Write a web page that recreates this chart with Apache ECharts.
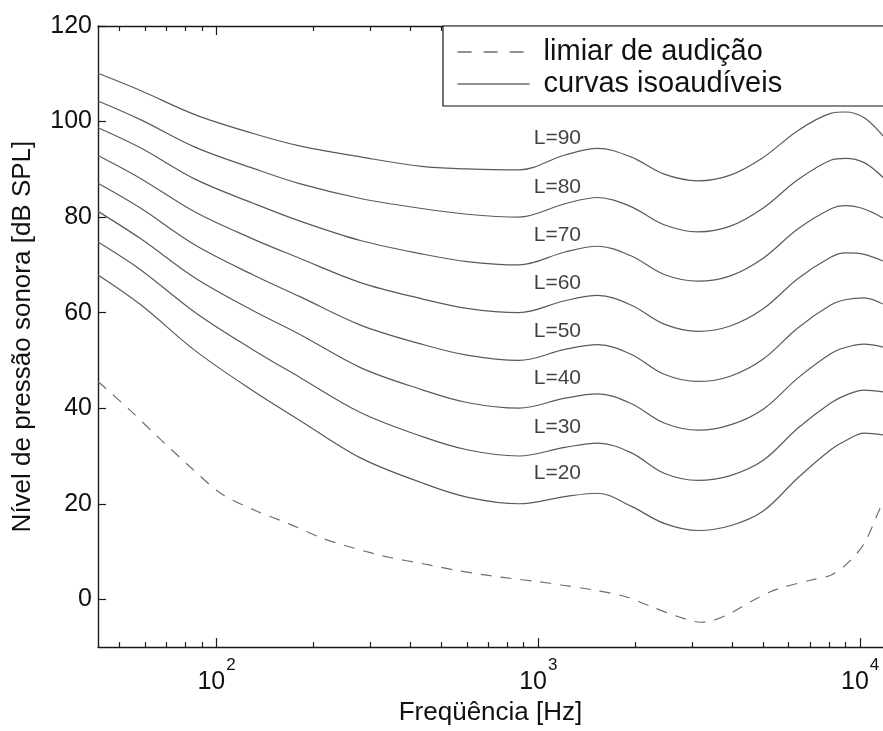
<!DOCTYPE html>
<html>
<head>
<meta charset="utf-8">
<script src="https://cdn.jsdelivr.net/npm/echarts@6/dist/echarts.min.js"></script>
<style>html,body{margin:0;padding:0;background:#fff}#c{width:883px;height:731px}</style>
</head>
<body>
<div id="c"></div>
<script>
// ---- data ----
const freqs = [42.8, 58, 86, 130, 181, 280, 434, 600, 870, 1210, 1530, 1940, 2460, 3140, 3950, 5000, 6400, 8100, 9000, 10300, 11780];
const L90 = [110.1, 106.5, 101.4, 97.5, 94.9, 92.6, 90.6, 90.1, 89.9, 93.0, 94.4, 92.6, 89.0, 87.6, 88.8, 92.5, 98.1, 101.7, 102.0, 100.8, 97.0];
const L80 = [104.3, 100.4, 94.6, 90.2, 87.0, 83.9, 81.8, 80.6, 80.0, 82.8, 84.1, 82.2, 78.4, 76.9, 78.1, 81.9, 87.8, 91.9, 92.3, 91.4, 88.3];
const L70 = [98.7, 94.5, 87.9, 82.9, 79.2, 75.1, 72.3, 70.7, 70.0, 72.7, 73.9, 71.9, 68.0, 66.6, 67.7, 71.4, 77.5, 81.7, 82.4, 81.7, 79.8];
const L60 = [92.9, 88.1, 81.0, 75.4, 71.4, 66.3, 62.9, 60.9, 60.0, 62.5, 63.6, 61.6, 57.6, 56.1, 57.2, 60.8, 67.1, 71.6, 72.5, 72.2, 70.8];
const L50 = [87.1, 81.9, 74.1, 67.9, 63.4, 57.4, 53.4, 51.1, 50.0, 52.3, 53.3, 51.3, 47.1, 45.6, 46.7, 50.3, 56.8, 61.6, 62.7, 63.1, 61.8];
const L40 = [81.2, 75.5, 67.2, 60.4, 55.5, 48.5, 43.9, 41.2, 40.0, 42.1, 43.0, 41.0, 36.9, 35.4, 36.5, 39.8, 46.3, 51.4, 52.7, 53.4, 52.8];
const L30 = [74.8, 69.0, 60.0, 52.2, 46.5, 39.1, 34.1, 31.3, 30.0, 31.8, 32.7, 30.7, 26.4, 24.9, 25.9, 29.1, 35.8, 41.1, 42.7, 43.8, 43.4];
const L20 = [67.9, 61.7, 52.0, 43.6, 37.5, 29.6, 24.4, 21.4, 20.0, 21.5, 22.2, 19.5, 15.9, 14.4, 15.4, 18.5, 25.4, 31.3, 33.2, 34.8, 34.4];
const curves = [L90, L80, L70, L60, L50, L40, L30, L20];

const thrFreqs = [42.8, 53.8, 65.2, 82.5, 104, 133, 168, 213, 271, 343, 434, 553, 700, 886, 1000, 1178, 1500, 1858, 2239, 2712, 3198, 3533, 3963, 4565, 5263, 5819, 7000, 8076, 8989, 10280, 11530, 11780];
const thrValues = [45.6, 39.6, 34.2, 27.8, 22.0, 18.5, 15.8, 12.8, 10.6, 8.8, 7.5, 6.1, 5.0, 4.1, 3.7, 3.0, 1.9, 0.6, -1.5, -3.6, -4.8, -4.3, -2.9, -0.5, 1.6, 2.6, 4.0, 5.0, 7.1, 11.6, 19.0, 20.0];

const curveLabels = ['L=90', 'L=80', 'L=70', 'L=60', 'L=50', 'L=40', 'L=30', 'L=20'];
const labelLevels = [96.5, 86.2, 76.2, 66.2, 56.2, 46.2, 36.1, 26.3];
const labelFreq = 1146;

const majorTicks = [100, 1000, 10000];
const minorTicks = [50, 60, 70, 80, 90, 200, 300, 400, 500, 600, 700, 800, 900, 2000, 3000, 4000, 5000, 6000, 7000, 8000, 9000];
const yTicks = [0, 20, 40, 60, 80, 100, 120];

const NAME_THR = 'limiar de audição';
const NAME_CURVES = 'curvas isoaudíveis';

// ---- chart ----
const FONT = '"Liberation Sans", Arial, Helvetica, sans-serif';
const AXC = '#1a1a1a';
const chart = echarts.init(document.getElementById('c'), null, {renderer: 'canvas'});

function xAxisDef(pos, ticks, len, showLine, showLabel) {
  return {
    type: 'log', logBase: 10, min: 42.8, max: 11780, position: pos,
    axisLine: {show: showLine, onZero: false, lineStyle: {color: AXC, width: 1.4}},
    axisTick: {show: true, inside: true, length: len, customValues: ticks, lineStyle: {color: AXC, width: 1.2}},
    axisLabel: showLabel ? {
      show: true, customValues: ticks, margin: 10,
      formatter: v => '{b|10}{s|' + Math.round(Math.log10(v)) + '}',
      rich: {
        b: {fontSize: 25, fontFamily: FONT, color: '#111', lineHeight: 38, verticalAlign: 'bottom'},
        s: {fontSize: 17, fontFamily: FONT, color: '#111', lineHeight: 17, verticalAlign: 'top', padding: [0, 0, 0, 1]}
      }
    } : {show: false},
    splitLine: {show: false},
    name: showLabel ? 'Freqüência [Hz]' : '',
    nameLocation: 'middle', nameGap: 41,
    nameTextStyle: {fontSize: 26, fontFamily: FONT, color: '#111'}
  };
}

const series = [];
series.push({
  name: NAME_THR, type: 'line', xAxisIndex: 0, yAxisIndex: 0, smooth: 0.3, symbol: 'none',
  lineStyle: {color: '#6e6e6e', width: 1.2, type: [11, 9]},
  data: thrFreqs.map((f, i) => [f, thrValues[i]])
});
curves.forEach(c => {
  series.push({
    name: NAME_CURVES, type: 'line', xAxisIndex: 0, yAxisIndex: 0, smooth: 0.35, symbol: 'none',
    lineStyle: {color: '#5a5a5a', width: 1.2},
    data: freqs.map((f, i) => [f, c[i]])
  });
});
series.push({
  name: 'labels', type: 'scatter', xAxisIndex: 0, yAxisIndex: 0, symbolSize: 0, silent: true,
  label: {show: true, position: 'inside', formatter: p => curveLabels[p.dataIndex],
          fontSize: 21, fontFamily: FONT, color: '#111'},
  data: labelLevels.map(v => [labelFreq, v])
});

chart.setOption({
  animation: false,
  backgroundColor: '#fff',
  grid: {left: 98, top: 26, right: -3, bottom: 78, containLabel: false},
  xAxis: [
    xAxisDef('bottom', majorTicks, 9, true, true),
    xAxisDef('bottom', minorTicks, 5, false, false),
    xAxisDef('top', majorTicks, 9, true, false),
    xAxisDef('top', minorTicks, 5, false, false)
  ],
  yAxis: [{
    type: 'value', min: -10, max: 120, position: 'left',
    axisLine: {show: true, onZero: false, lineStyle: {color: AXC, width: 1.4}},
    axisTick: {show: true, inside: true, length: 8, customValues: yTicks, lineStyle: {color: AXC, width: 1.2}},
    axisLabel: {show: true, customValues: yTicks, margin: 6, fontSize: 25, fontFamily: FONT, color: '#111'},
    splitLine: {show: false},
    name: 'Nível de pressão sonora [dB SPL]', nameLocation: 'middle', nameGap: 62,
    nameTextStyle: {fontSize: 26, fontFamily: FONT, color: '#111'}
  }],
  legend: {
    show: true, orient: 'vertical', left: 443, top: 26,
    padding: [11, 220, 7, 14], itemGap: 2, itemWidth: 72, itemHeight: 14,
    backgroundColor: '#fff', borderColor: '#111', borderWidth: 1.2, borderRadius: 0,
    textStyle: {fontSize: 29, fontFamily: FONT, color: '#111', padding: [0, 0, 0, 9], lineHeight: 30},
    itemStyle: {opacity: 0, borderWidth: 0},
    data: [
      {name: NAME_THR, itemStyle: {opacity: 0, borderWidth: 0}, lineStyle: {color: '#222', width: 1.2, type: [14, 12]}},
      {name: NAME_CURVES, itemStyle: {opacity: 0, borderWidth: 0}, lineStyle: {color: '#222', width: 1.2, type: 'solid'}}
    ],
    selectedMode: false
  },
  series: series
});
</script>
</body>
</html>
